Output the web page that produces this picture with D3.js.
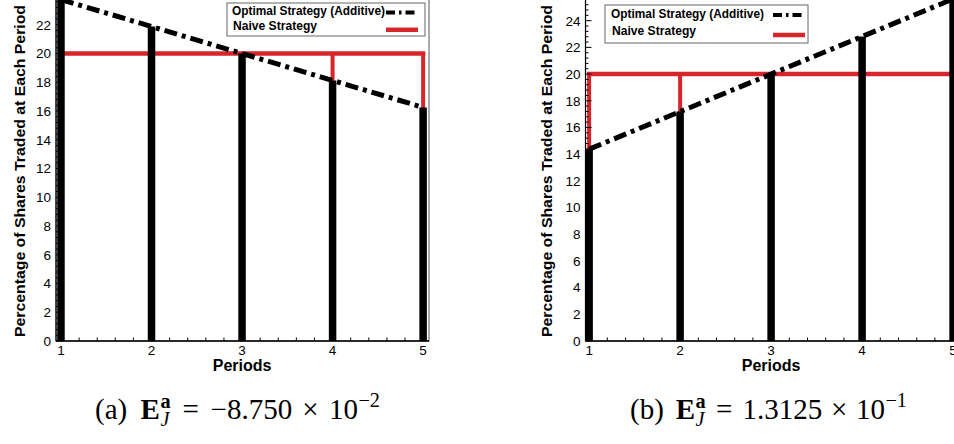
<!DOCTYPE html>
<html>
<head>
<meta charset="utf-8">
<script src="https://cdn.jsdelivr.net/npm/d3@7"></script>
<style>
  html, body { margin: 0; padding: 0; background: #fff; }
  svg { display: block; }
</style>
</head>
<body>
<svg id="chart" width="954" height="444"></svg>
<script>
// ---- data ----
const periods = [1, 2, 3, 4, 5];
const optimalA = [23.75, 21.875, 20, 18.125, 16.25];
const naiveA = [20, 20, 20, 20, 20];
const optimalB = [14.375, 17.1875, 20, 22.8125, 25.625];
const naiveB = [20, 20, 20, 20, 20];
const yTicksA = [0, 2, 4, 6, 8, 10, 12, 14, 16, 18, 20, 22];
const yTicksB = [0, 2, 4, 6, 8, 10, 12, 14, 16, 18, 20, 22, 24];
const xTickLabels = ["1", "2", "3", "4", "5"];
const seriesNames = ["Optimal Strategy (Additive)", "Naive Strategy"];
const yTitle = "Percentage of Shares Traded at Each Period";
const xTitle = "Periods";
const captionTags = ["(a)", "(b)"];
const captionMantissas = ["\u22128.750", "1.3125"];
const captionExponents = ["\u22122", "\u22121"];

// ---- layout ----
const SANS = "'Liberation Sans', Arial, Helvetica, sans-serif";
const SERIF = "'Liberation Serif', 'Times New Roman', serif";
const RED = "#d7262b";
const yBase = 341;

const panels = [
  {
    optimal: optimalA, naive: naiveA, yTicks: yTicksA, yMax: 24, yTop: -4,
    xDom: [0.945, 5.065], x0: 56, x1: 429,
    legend: { x: 227, y: 3, w: 198, h: 33, tx: 5, r1: 11.5, r2: 26.5, s0: 159, s1: 191, l1: 9.5, l2: 26.8 },
    yTitleX: 25, caption: { x0: 95, x1: 380 }
  },
  {
    optimal: optimalB, naive: naiveB, yTicks: yTicksB, yMax: 26, yTop: -6,
    xDom: [0.96, 5.065], x0: 585.5, x1: 959,
    legend: { x: 605, y: 5, w: 203, h: 38, tx: 6, r1: 13.3, r2: 30, s0: 168, s1: 200, l1: 10, l2: 30 },
    yTitleX: 552, caption: { x0: 630, x1: 907 }
  }
];

const svg = d3.select("#chart");
const defs = svg.append("defs");

panels.forEach((P, i) => {
  const g = svg.append("g");
  const x = d3.scaleLinear().domain(P.xDom).range([P.x0, P.x1]);
  const y = d3.scaleLinear().domain([0, P.yMax]).range([yBase, P.yTop]);

  defs.append("clipPath").attr("id", "plotclip" + i)
    .append("rect")
    .attr("x", P.x0).attr("y", P.yTop)
    .attr("width", P.x1 - P.x0).attr("height", yBase - P.yTop);

  // frame
  g.append("rect")
    .attr("x", P.x0).attr("y", P.yTop)
    .attr("width", P.x1 - P.x0).attr("height", yBase - P.yTop)
    .attr("fill", "#fff").attr("stroke", "#555").attr("stroke-width", 1);

  const plot = g.append("g").attr("clip-path", `url(#plotclip${i})`);
  const naivePts = periods.map((p, k) => [p, P.naive[k]]);
  const optPts = periods.map((p, k) => [p, P.optimal[k]]);
  const line = d3.line().x(d => x(d[0])).y(d => y(d[1]));

  // naive strategy: impulses + connecting line
  plot.selectAll("line.naive").data(naivePts).join("line")
    .attr("class", "naive")
    .attr("x1", d => x(d[0])).attr("x2", d => x(d[0]))
    .attr("y1", y(0)).attr("y2", d => y(d[1]))
    .attr("stroke", RED).attr("stroke-width", 4);
  plot.append("path")
    .attr("d", line(naivePts))
    .attr("fill", "none").attr("stroke", RED)
    .attr("stroke-width", 4.5).attr("stroke-linecap", "square");

  // optimal strategy: impulses + dash-dot line
  plot.selectAll("line.opt").data(optPts).join("line")
    .attr("class", "opt")
    .attr("x1", d => x(d[0])).attr("x2", d => x(d[0]))
    .attr("y1", y(0)).attr("y2", d => y(d[1]))
    .attr("stroke", "#000").attr("stroke-width", 7.5);
  plot.append("path")
    .attr("d", line(optPts))
    .attr("fill", "none").attr("stroke", "#000")
    .attr("stroke-width", 5).attr("stroke-dasharray", "13,5,4,5");

  // axes lines
  g.append("line").attr("x1", P.x0).attr("x2", P.x1).attr("y1", yBase).attr("y2", yBase)
    .attr("stroke", "#000").attr("stroke-width", 1.5);
  g.append("line").attr("x1", P.x0).attr("x2", P.x0).attr("y1", P.yTop).attr("y2", yBase)
    .attr("stroke", "#000").attr("stroke-width", 1.2);

  // y ticks (major + minor, inward)
  const yMinor = d3.range(0, P.yMax + 1e-6, 0.4).filter(v => Math.abs(v / 2 - Math.round(v / 2)) > 1e-6);
  g.selectAll("line.ymin").data(yMinor).join("line").attr("class", "ymin")
    .attr("x1", P.x0).attr("x2", P.x0 + 3).attr("y1", d => y(d)).attr("y2", d => y(d))
    .attr("stroke", "#000").attr("stroke-width", 1);
  g.selectAll("line.ymaj").data(P.yTicks).join("line").attr("class", "ymaj")
    .attr("x1", P.x0).attr("x2", P.x0 + 6).attr("y1", d => y(d)).attr("y2", d => y(d))
    .attr("stroke", "#000").attr("stroke-width", 1);
  g.selectAll("text.ylab").data(P.yTicks).join("text").attr("class", "ylab")
    .attr("x", P.x0 - 5).attr("y", d => y(d)).attr("dy", "0.36em")
    .attr("text-anchor", "end")
    .style("font-family", SANS).style("font-size", "13.5px")
    .text(d => d);

  // x ticks
  const xMinor = d3.range(1, 5.0001, 0.2).filter(v => Math.abs(v - Math.round(v)) > 1e-6);
  g.selectAll("line.xmin").data(xMinor).join("line").attr("class", "xmin")
    .attr("x1", d => x(d)).attr("x2", d => x(d)).attr("y1", yBase).attr("y2", yBase - 3.5)
    .attr("stroke", "#000").attr("stroke-width", 1);
  g.selectAll("line.xmaj").data(periods).join("line").attr("class", "xmaj")
    .attr("x1", d => x(d)).attr("x2", d => x(d)).attr("y1", yBase).attr("y2", yBase - 6)
    .attr("stroke", "#000").attr("stroke-width", 1);
  g.selectAll("text.xlab").data(periods).join("text").attr("class", "xlab")
    .attr("x", d => x(d)).attr("y", yBase + 14)
    .attr("text-anchor", "middle")
    .style("font-family", SANS).style("font-size", "13.5px")
    .text((d, k) => xTickLabels[k]);

  // axis titles
  g.append("text")
    .attr("transform", `translate(${P.yTitleX},171) rotate(-90)`)
    .attr("text-anchor", "middle")
    .attr("textLength", 332).attr("lengthAdjust", "spacingAndGlyphs")
    .style("font-family", SANS).style("font-size", "15px").style("font-weight", "bold")
    .text(yTitle);
  g.append("text")
    .attr("x", x(3)).attr("y", 371)
    .attr("text-anchor", "middle")
    .style("font-family", SANS).style("font-size", "16px").style("font-weight", "bold")
    .text(xTitle);

  // legend
  const L = P.legend;
  const lg = g.append("g").attr("transform", `translate(${L.x},${L.y})`);
  lg.append("rect").attr("width", L.w).attr("height", L.h)
    .attr("fill", "#fff").attr("stroke", "#666").attr("stroke-width", 1);
  lg.append("text").attr("x", L.tx).attr("y", L.r1)
    .attr("textLength", 153).attr("lengthAdjust", "spacingAndGlyphs")
    .style("font-family", SANS).style("font-size", "12.5px").style("font-weight", "bold")
    .text(seriesNames[0]);
  lg.append("text").attr("x", L.tx + 1).attr("y", L.r2)
    .attr("textLength", 84).attr("lengthAdjust", "spacingAndGlyphs")
    .style("font-family", SANS).style("font-size", "12.5px").style("font-weight", "bold")
    .text(seriesNames[1]);
  lg.append("line").attr("x1", L.s0).attr("x2", L.s1).attr("y1", L.l1).attr("y2", L.l1)
    .attr("stroke", "#000").attr("stroke-width", 4).attr("stroke-dasharray", "9,4,2.5,4");
  lg.append("line").attr("x1", L.s0).attr("x2", L.s1).attr("y1", L.l2).attr("y2", L.l2)
    .attr("stroke", RED).attr("stroke-width", 4.5);

  drawCaption(i, P.caption.x0, P.caption.x1, 419);
});

// caption under each panel: (x) E^a_J = m × 10^e
function drawCaption(i, startX, endX, baseline) {
  const fs = 29, sm = 0.7 * fs;
  const cg = svg.append("g").style("font-family", SERIF).attr("fill", "#000");
  const items = [
    { t: captionTags[i], gap: 0 },
    { t: "E", bold: true, gap: 0.333 * fs, flex: 1 },
    { script: true, sup: "a", sub: "J", gap: 0.5 },
    { t: "=", gap: 0.278 * fs, flex: 1 },
    { t: captionMantissas[i], gap: 0.278 * fs, flex: 1 },
    { t: "\u00d7", gap: 0.222 * fs, flex: 1 },
    { t: "10", gap: 0.222 * fs, flex: 1 },
    { t: captionExponents[i], size: sm, dy: -12, gap: 0.5 }
  ];
  const els = [];
  items.forEach(it => {
    if (it.script) {
      const a = cg.append("text").text(it.sup).style("font-size", sm + "px").style("font-weight", "bold");
      const j = cg.append("text").text(it.sub).style("font-size", sm + "px").style("font-style", "italic");
      const w = Math.max(a.node().getComputedTextLength(), j.node().getComputedTextLength());
      els.push({ it, nodes: [[a, -11], [j, 7]], w });
    } else {
      const t = cg.append("text").text(it.t)
        .style("font-size", (it.size || fs) + "px")
        .style("font-weight", it.bold ? "bold" : "normal");
      els.push({ it, nodes: [[t, it.dy || 0]], w: t.node().getComputedTextLength() });
    }
  });
  const natural = d3.sum(els, e => e.w + e.it.gap);
  const flexCount = d3.sum(els, e => e.it.flex ? 1 : 0);
  const extra = Math.max(0, (endX - startX - natural) / flexCount);
  let cx = startX;
  els.forEach(e => {
    cx += e.it.gap + (e.it.flex ? extra : 0);
    e.nodes.forEach(([n, dy]) => n.attr("x", cx).attr("y", baseline + dy));
    cx += e.w;
  });
}
</script>
</body>
</html>
